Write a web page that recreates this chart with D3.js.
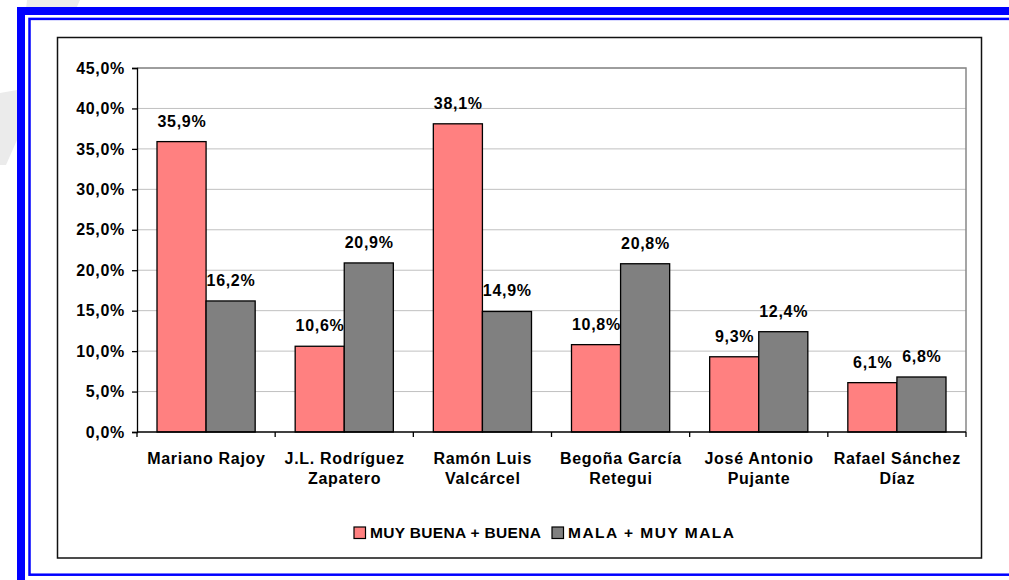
<!DOCTYPE html>
<html>
<head>
<meta charset="utf-8">
<script src="https://cdn.jsdelivr.net/npm/d3@7"></script>
<style>
	body { margin: 0; background: #ffffff; }
	svg { display: block; }
	text { font-family: 'Liberation Sans', Arial, sans-serif; font-weight: bold; fill: #000000; }
</style>
</head>
<body>
<svg id="chart"></svg>
<script>
// ========== DATA ==========
var categories = [
	['Mariano Rajoy'],
	['J.L. Rodríguez', 'Zapatero'],
	['Ramón Luis', 'Valcárcel'],
	['Begoña García', 'Retegui'],
	['José Antonio', 'Pujante'],
	['Rafael Sánchez', 'Díaz']
];
var seriesNames = ['MUY BUENA + BUENA', 'MALA + MUY MALA'];
var goodValues = [35.9, 10.6, 38.1, 10.8, 9.3, 6.1];
var badValues = [16.2, 20.9, 14.9, 20.8, 12.4, 6.8];
var yTicks = [0, 5, 10, 15, 20, 25, 30, 35, 40, 45];

// ========== STYLE ==========
var W = 1009, H = 580;
var colors = ['#ff8080', '#808080'];
var blue = '#0000ff';
var grid = '#c0c0c0';
var fontSize = '16px';
var spacing = 0.7;

var plot = { left: 137, right: 966, top: 68, bottom: 432 };

var svg = d3.select('#chart')
	.attr('width', W)
	.attr('height', H);

// faint watermark behind the frame
svg.append('polygon')
	.attr('points', '27,0 80,0 17,140 6,165 0,165 0,93 17,90')
	.attr('fill', '#ebebeb');

// blue double frame
svg.append('rect')
	.attr('x', 17).attr('y', 7)
	.attr('width', 1100).attr('height', 700)
	.attr('fill', blue);
svg.append('rect')
	.attr('x', 25).attr('y', 15)
	.attr('width', 1100).attr('height', 700)
	.attr('fill', '#ffffff');
svg.append('rect')
	.attr('x', 29.5).attr('y', 18.9)
	.attr('width', 1100).attr('height', 574.7 - 18.9)
	.attr('fill', 'none')
	.attr('stroke', blue)
	.attr('stroke-width', 2.5);

// chart box
svg.append('rect')
	.attr('x', 57.5).attr('y', 37.5)
	.attr('width', 924).attr('height', 520.5)
	.attr('fill', '#ffffff')
	.attr('stroke', '#111111')
	.attr('stroke-width', 1.5);

// ========== SCALES ==========
var y = d3.scaleLinear()
	.domain([0, 45])
	.range([plot.bottom, plot.top]);

var x0 = d3.scaleBand()
	.domain(d3.range(categories.length))
	.range([plot.left, plot.right])
	.padding(0);

var x1 = d3.scaleBand()
	.domain([0, 1])
	.range([20, x0.bandwidth() - 20])
	.padding(0);

function fmt(v) {
	return d3.format('.1f')(v).replace('.', ',') + '%';
}

// gridlines
svg.append('g')
	.selectAll('line')
	.data(yTicks.filter(function(d) { return d > 0; }))
	.enter().append('line')
	.attr('x1', plot.left)
	.attr('x2', plot.right)
	.attr('y1', function(d) { return y(d); })
	.attr('y2', function(d) { return y(d); })
	.attr('stroke', grid)
	.attr('stroke-width', 1);

// plot area border (top / right)
svg.append('path')
	.attr('d', d3.line()([[plot.left, plot.top], [plot.right, plot.top], [plot.right, plot.bottom]]))
	.attr('fill', 'none')
	.attr('stroke', '#888888')
	.attr('stroke-width', 1.5);

// bars
var rows = categories.map(function(c, i) {
	return [goodValues[i], badValues[i]];
});

var groups = svg.append('g')
	.selectAll('g')
	.data(rows)
	.enter().append('g')
	.attr('transform', function(d, i) { return 'translate(' + x0(i) + ',0)'; });

groups.selectAll('rect')
	.data(function(d) { return d; })
	.enter().append('rect')
	.attr('x', function(d, j) { return x1(j); })
	.attr('width', x1.bandwidth())
	.attr('y', function(d) { return y(d); })
	.attr('height', function(d) { return y(0) - y(d); })
	.attr('fill', function(d, j) { return colors[j]; })
	.attr('stroke', '#000000')
	.attr('stroke-width', 1.3);

// value labels
groups.selectAll('text')
	.data(function(d) { return d; })
	.enter().append('text')
	.attr('x', function(d, j) { return x1(j) + x1.bandwidth() / 2 + spacing / 2; })
	.attr('y', function(d) { return y(d) - 15; })
	.attr('text-anchor', 'middle')
	.style('font-size', fontSize)
	.style('letter-spacing', spacing + 'px')
	.text(function(d) { return fmt(d); });

// y axis
var yAxis = svg.append('g')
	.attr('transform', 'translate(' + plot.left + ',0)')
	.call(d3.axisLeft(y).tickValues(yTicks).tickSize(5).tickPadding(7).tickFormat(fmt));
yAxis.select('.domain').attr('stroke', '#000000').attr('stroke-width', 1.3);
yAxis.selectAll('.tick line').attr('stroke', '#000000').attr('stroke-width', 1.3);
yAxis.selectAll('.tick text')
	.attr('fill', '#000000')
	.style('font-family', "'Liberation Sans', Arial, sans-serif")
	.style('font-weight', 'bold')
	.style('font-size', fontSize)
	.style('letter-spacing', spacing + 'px');

// x axis line and category ticks
svg.append('line')
	.attr('x1', plot.left).attr('x2', plot.right)
	.attr('y1', plot.bottom).attr('y2', plot.bottom)
	.attr('stroke', '#000000')
	.attr('stroke-width', 1.3);

svg.append('g')
	.selectAll('line')
	.data(d3.range(categories.length + 1))
	.enter().append('line')
	.attr('x1', function(i) { return plot.left + i * x0.bandwidth(); })
	.attr('x2', function(i) { return plot.left + i * x0.bandwidth(); })
	.attr('y1', plot.bottom)
	.attr('y2', plot.bottom + 5)
	.attr('stroke', '#000000')
	.attr('stroke-width', 1.3);

// category labels
var catLabels = svg.append('g')
	.selectAll('text')
	.data(categories)
	.enter().append('text')
	.attr('text-anchor', 'middle')
	.style('font-size', fontSize)
	.style('letter-spacing', spacing + 'px');

catLabels.each(function(lines, i) {
	var t = d3.select(this);
	lines.forEach(function(line, k) {
		t.append('tspan')
			.attr('x', x0(i) + x0.bandwidth() / 2 + spacing / 2)
			.attr('y', 464 + k * 20)
			.text(line);
	});
});

// legend
var legendX = [354, 552];
var legendW = [171, 166];
var legend = svg.append('g')
	.selectAll('g')
	.data(seriesNames)
	.enter().append('g')
	.attr('transform', function(d, i) { return 'translate(' + legendX[i] + ',527)'; });

legend.append('rect')
	.attr('width', 11.5)
	.attr('height', 11.5)
	.attr('fill', function(d, i) { return colors[i]; })
	.attr('stroke', '#000000')
	.attr('stroke-width', 1.2);

legend.append('text')
	.attr('x', 16)
	.attr('y', 11)
	.attr('textLength', function(d, i) { return legendW[i]; })
	.attr('lengthAdjust', 'spacing')
	.style('font-size', '15.5px')
	.text(function(d) { return d; });
</script>
</body>
</html>
